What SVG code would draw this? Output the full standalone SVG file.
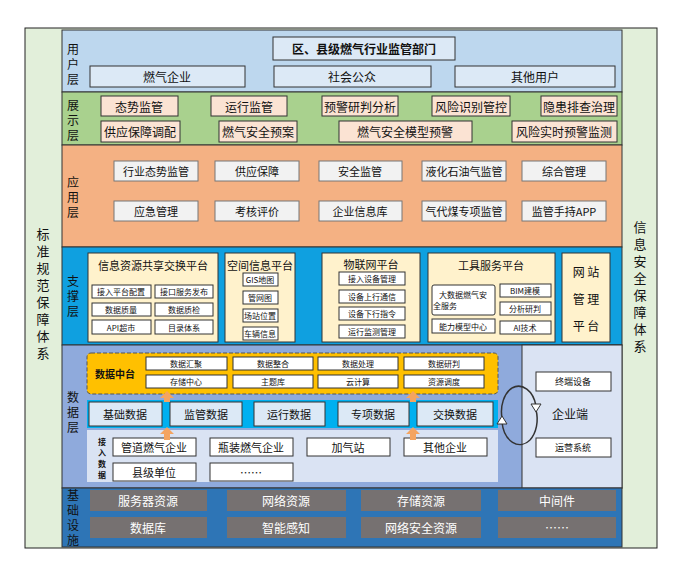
<svg xmlns="http://www.w3.org/2000/svg" width="681" height="569" viewBox="0 0 681 569">
<style>
text{font-family:"Noto Sans CJK SC","Liberation Sans",sans-serif;text-anchor:middle;dominant-baseline:central;fill:#111}
.lb{font-size:12px}
.sd{font-size:13px}
.w{fill:#fff;stroke:#333;stroke-width:1}
.u{fill:#dce9f6;stroke:#333;stroke-width:1}
.p{fill:#fbe3d3;stroke:#333;stroke-width:1}
.a{fill:#f2f2f2;stroke:#777;stroke-width:1}
.y{fill:#fff2cc;stroke:#333;stroke-width:1}
.g{fill:#767171}
.s11{font-size:11px}.s10{font-size:9px}.s8{font-size:8px}.s12{font-size:12px}
.wt{fill:#fff;font-size:12px}
</style>
<rect width="681" height="569" fill="#fff"/>
<rect x="25" y="28" width="632" height="520" fill="#e2efda" stroke="#222"/>
<g id="left"><text class="sd" x="43" y="233"><tspan x="43">标</tspan><tspan x="43" dy="17">准</tspan><tspan x="43" dy="17">规</tspan><tspan x="43" dy="17">范</tspan><tspan x="43" dy="17">保</tspan><tspan x="43" dy="17">障</tspan><tspan x="43" dy="17">体</tspan><tspan x="43" dy="17">系</tspan></text></g>
<g id="right"><text class="sd" x="640" y="226"><tspan x="640">信</tspan><tspan x="640" dy="17">息</tspan><tspan x="640" dy="17">安</tspan><tspan x="640" dy="17">全</tspan><tspan x="640" dy="17">保</tspan><tspan x="640" dy="17">障</tspan><tspan x="640" dy="17">体</tspan><tspan x="640" dy="17">系</tspan></text></g>
<g id="user">
<rect x="62" y="30" width="560" height="62" fill="#bdd7ee" stroke="#333"/>
<text class="lb" x="73" y="48"><tspan x="73">用</tspan><tspan x="73" dy="15">户</tspan><tspan x="73" dy="15">层</tspan></text>
<rect class="u" x="273" y="37" width="182" height="23"/><text class="s12" x="364" y="48" font-weight="bold">区、县级燃气行业监管部门</text>
<rect class="u" x="90" y="66" width="155" height="21"/><text class="s12" x="167" y="76">燃气企业</text>
<rect class="u" x="274" y="66" width="157" height="21"/><text class="s12" x="352" y="76">社会公众</text>
<rect class="u" x="455" y="66" width="160" height="21"/><text class="s12" x="535" y="76">其他用户</text>
</g>
<g id="show">
<rect x="62" y="92" width="560" height="53" fill="#a9d18e" stroke="#333"/>
<text class="lb" x="73" y="104"><tspan x="73">展</tspan><tspan x="73" dy="15">示</tspan><tspan x="73" dy="15">层</tspan></text>
<rect class="p" x="101" y="96" width="77" height="20"/><text class="s12" x="139" y="106">态势监管</text>
<rect class="p" x="211" y="96" width="76" height="20"/><text class="s12" x="249" y="106">运行监管</text>
<rect class="p" x="322" y="96" width="76" height="20"/><text class="s12" x="360" y="106">预警研判分析</text>
<rect class="p" x="432" y="96" width="78" height="20"/><text class="s12" x="471" y="106">风险识别管控</text>
<rect class="p" x="541" y="96" width="76" height="20"/><text class="s12" x="579" y="106">隐患排查治理</text>
<rect class="p" x="101" y="121" width="79" height="21"/><text class="s12" x="140" y="131">供应保障调配</text>
<rect class="p" x="219" y="121" width="78" height="21"/><text class="s12" x="258" y="131">燃气安全预案</text>
<rect class="p" x="339" y="121" width="133" height="21"/><text class="s12" x="405" y="131">燃气安全模型预警</text>
<rect class="p" x="512" y="121" width="105" height="21"/><text class="s12" x="564" y="131">风险实时预警监测</text>
</g>
<g id="app">
<rect x="62" y="145" width="560" height="102" fill="#f4b183" stroke="#333"/>
<text class="lb" x="73" y="181"><tspan x="73">应</tspan><tspan x="73" dy="15">用</tspan><tspan x="73" dy="15">层</tspan></text>
<rect class="a" x="114" y="161" width="84" height="20"/><text class="s11" x="156" y="171">行业态势监管</text>
<rect class="a" x="215" y="161" width="84" height="20"/><text class="s11" x="257" y="171">供应保障</text>
<rect class="a" x="319" y="161" width="83" height="20"/><text class="s11" x="360" y="171">安全监管</text>
<rect class="a" x="422" y="161" width="84" height="20"/><text class="s11" x="464" y="171">液化石油气监管</text>
<rect class="a" x="522" y="161" width="84" height="20"/><text class="s11" x="564" y="171">综合管理</text>
<rect class="a" x="114" y="201" width="84" height="20"/><text class="s11" x="156" y="211">应急管理</text>
<rect class="a" x="215" y="201" width="84" height="20"/><text class="s11" x="257" y="211">考核评价</text>
<rect class="a" x="319" y="201" width="83" height="20"/><text class="s11" x="360" y="211">企业信息库</text>
<rect class="a" x="422" y="201" width="84" height="20"/><text class="s11" x="464" y="211">气代煤专项监管</text>
<rect class="a" x="522" y="201" width="84" height="20"/><text class="s11" x="564" y="211">监管手持APP</text>
</g>
<g id="support">
<rect x="62" y="247" width="560" height="98" fill="#0fa0e0" stroke="#333"/>
<text class="lb" x="73" y="280"><tspan x="73">支</tspan><tspan x="73" dy="15">撑</tspan><tspan x="73" dy="15">层</tspan></text>
<rect class="y" x="88" y="253" width="130" height="89"/><text class="s11" x="153" y="265">信息资源共享交换平台</text>
<rect class="w" x="92" y="285" width="59" height="13"/><text class="s8" x="121" y="291">接入平台配置</text>
<rect class="w" x="155" y="285" width="58" height="13"/><text class="s8" x="184" y="291">接口服务发布</text>
<rect class="w" x="92" y="303" width="59" height="13"/><text class="s8" x="121" y="309">数据质量</text>
<rect class="w" x="155" y="303" width="58" height="13"/><text class="s8" x="184" y="309">数据质检</text>
<rect class="w" x="92" y="320" width="59" height="14"/><text class="s8" x="121" y="327">API超市</text>
<rect class="w" x="155" y="320" width="58" height="14"/><text class="s8" x="184" y="327">目录体系</text>
<rect class="y" x="225" y="253" width="70" height="89"/><text class="s11" x="260" y="265">空间信息平台</text>
<rect class="w" x="243" y="273" width="35" height="13"/><text class="s8" x="260" y="279">GIS地图</text>
<rect class="w" x="243" y="291" width="35" height="13"/><text class="s8" x="260" y="297">管网图</text>
<rect class="w" x="243" y="309" width="35" height="13"/><text class="s8" x="260" y="315">场站位置</text>
<rect class="w" x="243" y="327" width="35" height="13"/><text class="s8" x="260" y="333">车辆信息</text>
<rect class="y" x="322" y="253" width="98" height="89"/><text class="s11" x="371" y="264">物联网平台</text>
<rect class="w" x="339" y="272" width="66" height="13"/><text class="s8" x="372" y="278">接入设备管理</text>
<rect class="w" x="339" y="290" width="66" height="13"/><text class="s8" x="372" y="296">设备上行通信</text>
<rect class="w" x="339" y="307" width="66" height="13"/><text class="s8" x="372" y="313">设备下行指令</text>
<rect class="w" x="339" y="325" width="66" height="13"/><text class="s8" x="372" y="331">运行监测管理</text>
<rect class="y" x="428" y="253" width="127" height="89"/><text class="s11" x="491" y="265">工具服务平台</text>
<rect class="w" x="432" y="285" width="63" height="30" rx="2"/><text class="s8" x="463" y="294"><tspan x="463">大数据燃气安</tspan><tspan x="445" dy="11">全服务</tspan></text>
<rect class="w" x="432" y="319" width="63" height="14"/><text class="s8" x="463" y="326">能力模型中心</text>
<rect class="w" x="500" y="284" width="51" height="13"/><text class="s8" x="525" y="290">BIM建模</text>
<rect class="w" x="500" y="302" width="51" height="13"/><text class="s8" x="525" y="308">分析研判</text>
<rect class="w" x="500" y="321" width="51" height="13"/><text class="s8" x="525" y="327">AI技术</text>
<rect class="y" x="562" y="253" width="48" height="89"/>
<text class="s12" x="586" y="271">网 站</text><text class="s12" x="586" y="298">管 理</text><text class="s12" x="586" y="325">平 台</text>
</g>
<g id="data">
<rect x="62" y="345" width="560" height="143" fill="#8faadc" stroke="#333"/>
<rect x="522" y="345" width="100" height="143" fill="#dae3f3" stroke="#333"/>
<text class="lb" x="73" y="396"><tspan x="73">数</tspan><tspan x="73" dy="15">据</tspan><tspan x="73" dy="15">层</tspan></text>
<rect x="87" y="353" width="411" height="41" rx="4" fill="#ffc000" stroke="#555" stroke-dasharray="4 2"/>
<text x="115" y="373" font-size="10" font-weight="bold">数据中台</text>
<rect class="w" x="146" y="357" width="81" height="13"/><text class="s8" x="186" y="363">数据汇聚</text>
<rect class="w" x="233" y="357" width="80" height="13"/><text class="s8" x="273" y="363">数据整合</text>
<rect class="w" x="318" y="357" width="80" height="13"/><text class="s8" x="358" y="363">数据处理</text>
<rect class="w" x="404" y="357" width="80" height="13"/><text class="s8" x="444" y="363">数据研判</text>
<rect class="w" x="146" y="375" width="81" height="13"/><text class="s8" x="186" y="381">存储中心</text>
<rect class="w" x="233" y="375" width="80" height="13"/><text class="s8" x="273" y="381">主题库</text>
<rect class="w" x="318" y="375" width="80" height="13"/><text class="s8" x="358" y="381">云计算</text>
<rect class="w" x="404" y="375" width="80" height="13"/><text class="s8" x="444" y="381">资源调度</text>
<rect x="87" y="400" width="411" height="28" fill="#00b0f0"/>
<rect class="u" x="89" y="402" width="73" height="24"/><text class="s11" x="125" y="414">基础数据</text>
<rect class="u" x="170" y="402" width="72" height="24"/><text class="s11" x="206" y="414">监管数据</text>
<rect class="u" x="254" y="402" width="71" height="24"/><text class="s11" x="289" y="414">运行数据</text>
<rect class="u" x="338" y="402" width="71" height="24"/><text class="s11" x="373" y="414">专项数据</text>
<rect class="u" x="417" y="402" width="76" height="24"/><text class="s11" x="455" y="414">交换数据</text>
<rect x="87" y="430" width="411" height="52" fill="#dae3f3"/>
<text x="102" y="441" font-size="8" font-weight="bold"><tspan x="102">接</tspan><tspan x="102" dy="11">入</tspan><tspan x="102" dy="11">数</tspan><tspan x="102" dy="11">据</tspan></text>
<rect class="w" x="113" y="438" width="83" height="18"/><text class="s11" x="154" y="447">管道燃气企业</text>
<rect class="w" x="210" y="438" width="83" height="18"/><text class="s11" x="251" y="447">瓶装燃气企业</text>
<rect class="w" x="307" y="438" width="83" height="18"/><text class="s11" x="348" y="447">加气站</text>
<rect class="w" x="404" y="438" width="83" height="18"/><text class="s11" x="445" y="447">其他企业</text>
<rect class="w" x="113" y="463" width="83" height="18"/><text class="s11" x="154" y="472">县级单位</text>
<rect class="w" x="210" y="463" width="83" height="18"/><text class="s11" x="251" y="472">……</text>
<rect class="w" x="536" y="372" width="75" height="19"/><text class="s10" x="573" y="381">终端设备</text>
<text x="570" y="413" font-size="12">企业端</text>
<rect class="w" x="536" y="438" width="75" height="19"/><text class="s10" x="573" y="447">运营系统</text>
</g>
<g id="connectors">
<g fill="#f4a460">
<polygon points="164,402 164,398 160,398 167,391 174,398 170,398 170,402"/>
<polygon points="164,440 164,434 160,434 167,427 174,434 170,434 170,440"/>
<polygon points="410,402 410,398 406,398 413,391 420,398 416,398 416,402"/>
<polygon points="410,440 410,434 406,434 413,427 420,434 416,434 416,440"/>
</g>
<g fill="none" stroke="#333" stroke-width="1.5">
<path d="M512,388 A18,26 0 0 1 536,406"/>
<path d="M530,440 A18,26 0 0 1 502,422"/>
<path d="M512,388 A18,26 0 0 0 502,418"/>
<path d="M530,440 A18,26 0 0 0 536,410"/>
</g>
<polygon points="531,404 541,404 536,412" fill="#fff" stroke="#333"/>
<polygon points="497,424 507,424 502,416" fill="#fff" stroke="#333"/>
</g>
<g id="infra">
<rect x="62" y="488" width="560" height="59" fill="#2e75b6" stroke="#333"/>
<text class="lb" x="73" y="494"><tspan x="73">基</tspan><tspan x="73" dy="15">础</tspan><tspan x="73" dy="15">设</tspan><tspan x="73" dy="15">施</tspan></text>
<rect class="g" x="90" y="490" width="117" height="21"/><text class="wt" x="148" y="500">服务器资源</text>
<rect class="g" x="227" y="490" width="119" height="21"/><text class="wt" x="286" y="500">网络资源</text>
<rect class="g" x="361" y="490" width="120" height="21"/><text class="wt" x="421" y="500">存储资源</text>
<rect class="g" x="498" y="490" width="118" height="21"/><text class="wt" x="557" y="500">中间件</text>
<rect class="g" x="90" y="517" width="117" height="21"/><text class="wt" x="148" y="527">数据库</text>
<rect class="g" x="227" y="517" width="119" height="21"/><text class="wt" x="286" y="527">智能感知</text>
<rect class="g" x="361" y="517" width="120" height="21"/><text class="wt" x="421" y="527">网络安全资源</text>
<rect class="g" x="498" y="517" width="118" height="21"/><text class="wt" x="557" y="527">……</text>
</g>
</svg>
